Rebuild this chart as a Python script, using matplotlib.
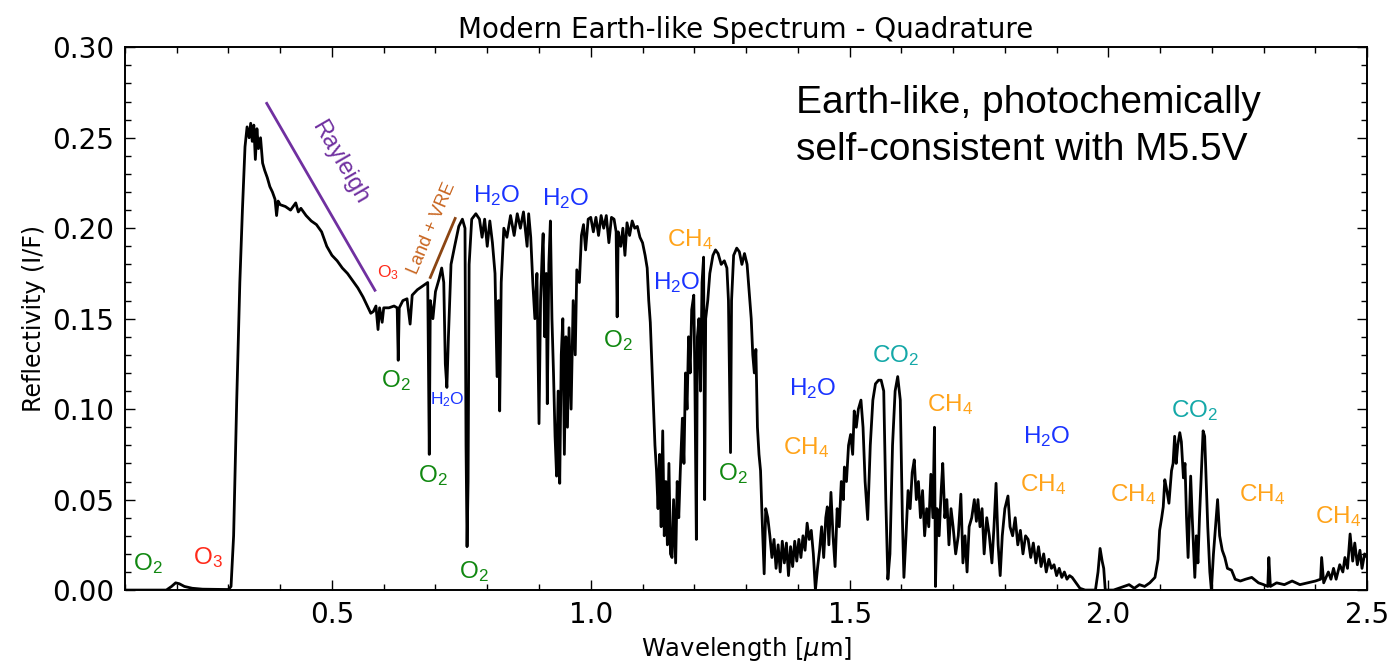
import numpy as np
import matplotlib
matplotlib.use('Agg')
import matplotlib.pyplot as plt
from matplotlib.ticker import MultipleLocator, FormatStrFormatter

# Spectre, par morceaux (longueur d'onde en um, reflectivite I/F)
wl_uv = [0.10, 0.18, 0.19, 0.198, 0.205, 0.215, 0.23, 0.25, 0.30, 0.305, 0.31, 0.316,
         0.322, 0.327, 0.332, 0.336, 0.340, 0.343, 0.346, 0.349, 0.352, 0.355, 0.358,
         0.362, 0.366, 0.370, 0.375, 0.380, 0.385, 0.390, 0.393, 0.396, 0.40, 0.41,
         0.42, 0.43, 0.435, 0.44, 0.45, 0.46, 0.47, 0.48, 0.49, 0.50, 0.51, 0.52, 0.53,
         0.54, 0.55, 0.56, 0.57, 0.575, 0.58, 0.585, 0.589, 0.592, 0.597, 0.60]
refl_uv = [0.000, 0.000, 0.002, 0.004, 0.0035, 0.002, 0.001, 0.0005, 0.0003, 0.002, 0.03, 0.105,
           0.17, 0.21, 0.245, 0.256, 0.250, 0.258, 0.248, 0.257, 0.238, 0.255, 0.244,
           0.250, 0.236, 0.232, 0.228, 0.223, 0.220, 0.216, 0.207, 0.215, 0.213, 0.212,
           0.210, 0.214, 0.209, 0.211, 0.207, 0.204, 0.202, 0.198, 0.190, 0.185, 0.182, 0.178, 0.175,
           0.171, 0.167, 0.162, 0.156, 0.153, 0.154, 0.157, 0.144, 0.156, 0.148, 0.156]

wl_red = [0.61, 0.62, 0.626, 0.628, 0.630, 0.637, 0.645, 0.651, 0.655, 0.665, 0.675,
          0.685, 0.688, 0.690, 0.695, 0.700, 0.707, 0.712, 0.716, 0.719, 0.722, 0.725,
          0.730, 0.737, 0.745, 0.752, 0.757, 0.759, 0.761, 0.763, 0.765, 0.770, 0.778]
refl_red = [0.156, 0.157, 0.156, 0.127, 0.156, 0.160, 0.161, 0.147, 0.163, 0.166, 0.168,
            0.170, 0.075, 0.160, 0.150, 0.165, 0.172, 0.178, 0.170, 0.125, 0.112, 0.140,
            0.180, 0.190, 0.201, 0.205, 0.200, 0.080, 0.024, 0.060, 0.180, 0.205, 0.208]

wl_nir1 = [0.785, 0.79, 0.795, 0.80, 0.805, 0.81, 0.815, 0.819, 0.822, 0.824, 0.827,
           0.832, 0.838, 0.845, 0.852, 0.858, 0.864, 0.870, 0.874, 0.877, 0.880, 0.884,
           0.888, 0.892, 0.896, 0.900, 0.903, 0.906, 0.908, 0.911, 0.914, 0.916, 0.919,
           0.922, 0.925, 0.928, 0.931, 0.934, 0.937, 0.940, 0.943, 0.946, 0.949, 0.952,
           0.955, 0.958, 0.962, 0.966, 0.970, 0.973, 0.978, 0.982, 0.986, 0.990, 0.995,
           1.000, 1.005, 1.010, 1.015, 1.020, 1.025, 1.030, 1.035, 1.040, 1.045, 1.049,
           1.051, 1.053, 1.058, 1.062, 1.066, 1.070, 1.075, 1.080, 1.085, 1.090, 1.095,
           1.100, 1.105, 1.109]
refl_nir1 = [0.205, 0.195, 0.205, 0.190, 0.204, 0.192, 0.175, 0.118, 0.160, 0.099, 0.170,
             0.200, 0.195, 0.207, 0.196, 0.208, 0.200, 0.209, 0.198, 0.190, 0.208, 0.195,
             0.170, 0.150, 0.175, 0.092, 0.160, 0.185, 0.197, 0.140, 0.175, 0.103, 0.180,
             0.204, 0.150, 0.120, 0.085, 0.063, 0.110, 0.059, 0.130, 0.150, 0.075, 0.140,
             0.090, 0.145, 0.100, 0.160, 0.130, 0.177, 0.170, 0.196, 0.202, 0.188, 0.205,
             0.206, 0.198, 0.206, 0.196, 0.207, 0.200, 0.207, 0.192, 0.206, 0.205, 0.198,
             0.151, 0.198, 0.190, 0.200, 0.185, 0.203, 0.196, 0.204, 0.200, 0.201, 0.195,
             0.192, 0.185, 0.178]

wl_nir2 = [1.112, 1.115, 1.118, 1.121, 1.124, 1.127, 1.130, 1.133, 1.136, 1.139, 1.142,
           1.145, 1.148, 1.151, 1.154, 1.157, 1.160, 1.164, 1.167, 1.170, 1.173, 1.177,
           1.180, 1.183, 1.186, 1.189, 1.192, 1.195, 1.199, 1.201, 1.204, 1.206, 1.209,
           1.212, 1.215, 1.218, 1.220, 1.222, 1.226, 1.230, 1.236, 1.241, 1.246, 1.252,
           1.258, 1.263, 1.266, 1.268, 1.270, 1.272, 1.276, 1.282, 1.287, 1.292, 1.297,
           1.302, 1.306, 1.310, 1.313, 1.316, 1.319, 1.322, 1.325, 1.328, 1.331, 1.335,
           1.338, 1.342]
refl_nir2 = [0.160, 0.148, 0.125, 0.103, 0.080, 0.066, 0.045, 0.075, 0.035, 0.088, 0.030,
             0.060, 0.025, 0.070, 0.020, 0.018, 0.050, 0.015, 0.060, 0.040, 0.066, 0.095,
             0.070, 0.120, 0.100, 0.140, 0.120, 0.155, 0.163, 0.120, 0.028, 0.140, 0.150,
             0.110, 0.170, 0.184, 0.050, 0.150, 0.160, 0.175, 0.185, 0.188, 0.186, 0.180,
             0.182, 0.178, 0.160, 0.120, 0.076, 0.160, 0.185, 0.189, 0.187, 0.180, 0.186,
             0.180, 0.165, 0.150, 0.130, 0.120, 0.133, 0.090, 0.075, 0.066, 0.040, 0.009,
             0.045, 0.040]

wl_ir1 = [1.346, 1.350, 1.354, 1.358, 1.362, 1.366, 1.370, 1.374, 1.378, 1.382, 1.386,
          1.390, 1.394, 1.398, 1.402, 1.406, 1.410, 1.414, 1.418, 1.422, 1.426, 1.430,
          1.434, 1.438, 1.442, 1.446, 1.450, 1.454, 1.457, 1.460, 1.464, 1.468, 1.472,
          1.476, 1.480, 1.484, 1.488, 1.490, 1.494, 1.498, 1.502, 1.506, 1.509, 1.513,
          1.517, 1.522, 1.526, 1.530, 1.535, 1.540, 1.545, 1.550, 1.556, 1.561, 1.566,
          1.570, 1.574, 1.578, 1.583, 1.588, 1.593, 1.598, 1.602, 1.605, 1.609]
refl_ir1 = [0.030, 0.018, 0.028, 0.012, 0.025, 0.010, 0.027, 0.015, 0.026, 0.008, 0.024,
            0.013, 0.027, 0.016, 0.028, 0.018, 0.030, 0.022, 0.037, 0.028, 0.033, 0.020,
            0.000, 0.012, 0.022, 0.035, 0.018, 0.040, 0.046, 0.025, 0.054, 0.030, 0.013,
            0.045, 0.035, 0.060, 0.050, 0.068, 0.060, 0.080, 0.086, 0.075, 0.099, 0.090,
            0.100, 0.105, 0.090, 0.060, 0.039, 0.080, 0.105, 0.114, 0.116, 0.116, 0.110,
            0.050, 0.006, 0.020, 0.080, 0.110, 0.118, 0.105, 0.040, 0.007, 0.030]

wl_ir2 = [1.613, 1.617, 1.621, 1.625, 1.629, 1.633, 1.637, 1.641, 1.645, 1.649, 1.653,
          1.657, 1.661, 1.664, 1.666, 1.669, 1.673, 1.677, 1.680, 1.684, 1.688, 1.692,
          1.696, 1.700, 1.705, 1.710, 1.715, 1.719, 1.723, 1.727, 1.731, 1.736, 1.741,
          1.745, 1.748, 1.752, 1.756, 1.760, 1.765, 1.770, 1.775, 1.779, 1.783, 1.787,
          1.791, 1.795, 1.800, 1.806, 1.810, 1.815, 1.820, 1.825, 1.830, 1.835, 1.840,
          1.845, 1.850, 1.855, 1.860, 1.865, 1.870, 1.875, 1.880, 1.885, 1.890, 1.895,
          1.900, 1.905, 1.910, 1.915, 1.920, 1.925, 1.930, 1.935, 1.945, 1.955, 1.975,
          1.980, 1.984, 1.988, 1.991, 1.994]
refl_ir2 = [0.055, 0.045, 0.065, 0.072, 0.050, 0.060, 0.040, 0.055, 0.030, 0.045, 0.035,
            0.064, 0.040, 0.090, 0.002, 0.045, 0.030, 0.055, 0.070, 0.040, 0.050, 0.025,
            0.045, 0.035, 0.020, 0.030, 0.053, 0.015, 0.030, 0.010, 0.035, 0.040, 0.050,
            0.038, 0.050, 0.035, 0.045, 0.020, 0.040, 0.030, 0.015, 0.035, 0.059, 0.025,
            0.008, 0.030, 0.045, 0.052, 0.035, 0.030, 0.040, 0.025, 0.033, 0.020, 0.030,
            0.028, 0.018, 0.026, 0.015, 0.024, 0.013, 0.020, 0.010, 0.017, 0.012, 0.014,
            0.008, 0.012, 0.007, 0.010, 0.006, 0.008, 0.007, 0.005, 0.001, 0.000, 0.000,
            0.010, 0.023, 0.016, 0.012, 0.000]

wl_ir3 = [2.01, 2.02, 2.03, 2.04, 2.05, 2.06, 2.07, 2.08, 2.09, 2.096, 2.099, 2.103,
          2.106, 2.109, 2.113, 2.117, 2.122, 2.125, 2.128, 2.131, 2.134, 2.138, 2.141,
          2.145, 2.148, 2.151, 2.154, 2.157, 2.159, 2.162, 2.165, 2.167, 2.170, 2.173,
          2.176, 2.179, 2.183, 2.186, 2.189, 2.192, 2.196, 2.199, 2.203, 2.207, 2.211,
          2.215, 2.220, 2.225, 2.230, 2.238, 2.245, 2.255, 2.265, 2.277, 2.290, 2.300,
          2.308, 2.310, 2.313, 2.325, 2.340, 2.355, 2.370, 2.385, 2.400, 2.410, 2.412,
          2.416, 2.425, 2.430, 2.435, 2.440, 2.447, 2.453, 2.457, 2.462, 2.467, 2.472,
          2.476, 2.481, 2.486, 2.490, 2.495, 2.500]
refl_ir3 = [0.000, 0.001, 0.002, 0.003, 0.001, 0.003, 0.002, 0.004, 0.007, 0.017, 0.033, 0.040,
            0.046, 0.061, 0.055, 0.048, 0.066, 0.070, 0.085, 0.070, 0.080, 0.087, 0.082,
            0.062, 0.070, 0.040, 0.018, 0.045, 0.063, 0.040, 0.020, 0.007, 0.030, 0.015,
            0.040, 0.060, 0.088, 0.085, 0.060, 0.035, 0.010, 0.000, 0.020, 0.035, 0.050,
            0.030, 0.022, 0.018, 0.012, 0.011, 0.006, 0.005, 0.006, 0.007, 0.004, 0.003,
            0.002, 0.018, 0.002, 0.004, 0.003, 0.005, 0.003, 0.004, 0.005, 0.006, 0.018,
            0.004, 0.010, 0.006, 0.012, 0.006, 0.014, 0.010, 0.018, 0.012, 0.031, 0.016,
            0.026, 0.014, 0.022, 0.012, 0.020, 0.018]

# Etiquettes des especes absorbantes
label_text = [r'O$_2$', r'O$_3$', r'O$_3$', r'O$_2$', r'H$_2$O', r'O$_2$', r'O$_2$',
              r'H$_2$O', r'H$_2$O', r'O$_2$', r'CH$_4$', r'H$_2$O', r'O$_2$', r'H$_2$O',
              r'CH$_4$', r'CO$_2$', r'CH$_4$', r'H$_2$O', r'CH$_4$', r'CO$_2$', r'CH$_4$',
              r'CH$_4$', r'CH$_4$']
label_x = [0.144, 0.260, 0.608, 0.624, 0.723, 0.694, 0.775, 0.819, 0.951, 1.052, 1.191,
           1.166, 1.274, 1.429, 1.416, 1.588, 1.694, 1.880, 1.874, 2.166, 2.048, 2.298, 2.443]
label_y = [0.0149, 0.018, 0.1755, 0.116, 0.105, 0.0635, 0.010, 0.218, 0.2165, 0.138, 0.194,
           0.170, 0.0646, 0.1115, 0.079, 0.1297, 0.1027, 0.085, 0.0585, 0.0994, 0.053,
           0.053, 0.0409]
label_color = ['green', 'red', 'red', 'green', 'blue', 'green', 'green', 'blue', 'blue',
               'green', 'orange', 'blue', 'green', 'blue', 'orange', 'cyan', 'orange',
               'blue', 'orange', 'cyan', 'orange', 'orange', 'orange']
label_small = [False, False, True, False, True, False, False, False, False, False, False,
               False, False, False, False, False, False, False, False, False, False,
               False, False]

colors = {'green': '#118811', 'red': '#ff2a1a', 'blue': '#1a33ff',
          'orange': '#ffa31a', 'cyan': '#14a8a8'}

wl = np.concatenate([wl_uv, wl_red, wl_nir1, wl_nir2, wl_ir1, wl_ir2, wl_ir3])
refl = np.concatenate([refl_uv, refl_red, refl_nir1, refl_nir2, refl_ir1, refl_ir2, refl_ir3])

plt.rcParams['mathtext.fontset'] = 'custom'
plt.rcParams['mathtext.rm'] = 'Liberation Sans'
plt.rcParams['mathtext.it'] = 'Liberation Sans:italic'

fig = plt.figure(figsize=(13.88, 6.66), dpi=100)
ax = fig.add_axes([0.090, 0.114, 0.895, 0.815])

ax.plot(wl, refl, color='black', lw=2)

ax.set_xlim(0.1, 2.5)
ax.set_ylim(0.0, 0.30)
ax.xaxis.set_major_locator(MultipleLocator(0.5))
ax.xaxis.set_minor_locator(MultipleLocator(0.1))
ax.yaxis.set_major_locator(MultipleLocator(0.05))
ax.yaxis.set_minor_locator(MultipleLocator(0.01))
ax.yaxis.set_major_formatter(FormatStrFormatter('%.2f'))
ax.tick_params(which='both', direction='in', top=True, right=True)
ax.tick_params(which='major', length=7, width=1, labelsize=20, pad=8)
ax.tick_params(which='minor', length=4, width=1)
for sp in ax.spines.values():
    sp.set_linewidth(1.4)

ax.set_title('Modern Earth-like Spectrum - Quadrature', fontsize=20, pad=7)
ax.set_xlabel(r'Wavelength [$\mu$m]', fontsize=17.5, math_fontfamily='dejavusans')
ax.set_ylabel('Reflectivity (I/F)', fontsize=17)

# Etiquettes des especes
for txt, x, y, c, small in zip(label_text, label_x, label_y, label_color, label_small):
    ax.text(x, y, txt, color=colors[c], fontsize=12.5 if small else 17.5,
            family='Liberation Sans', ha='center', va='center')

# Rayleigh
ax.plot([0.374, 0.583], [0.269, 0.1657], color='#7030a0', lw=2)
ax.text(0.515, 0.2365, 'Rayleigh', color='#7030a0', fontsize=17, family='Liberation Sans',
        rotation=-60, ha='center', va='center')

# Land + VRE
ax.plot([0.690, 0.738], [0.1728, 0.2054], color='#8b4513', lw=2)
ax.text(0.693, 0.200, 'Land + VRE', color='#c8641e', fontsize=13, family='Liberation Sans',
        rotation=67, ha='center', va='center')

ax.text(1.396, 0.2690, 'Earth-like, photochemically', fontsize=28,
        family='Liberation Sans', ha='left', va='center')
ax.text(1.396, 0.2431, 'self-consistent with M5.5V', fontsize=28,
        family='Liberation Sans', ha='left', va='center')

fig.savefig('out.png', dpi=100)
